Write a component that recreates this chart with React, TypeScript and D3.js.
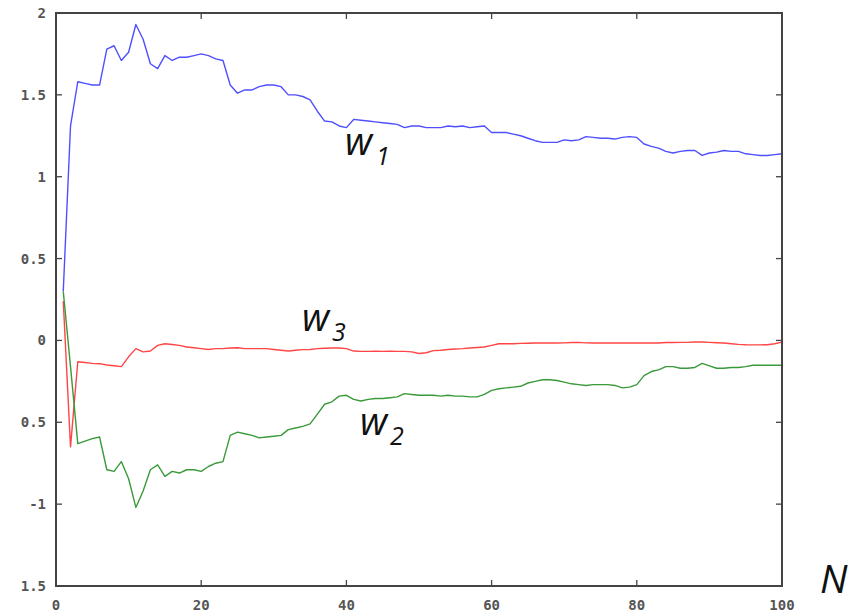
import { useEffect, useRef } from "react";
import * as d3 from "d3";

// weight estimates for N = 1..100
const w1 = [
  0.30, 1.31, 1.58, 1.57, 1.56, 1.56, 1.78, 1.80, 1.71, 1.76,
  1.93, 1.84, 1.69, 1.66, 1.74, 1.71, 1.73, 1.73, 1.74, 1.75,
  1.74, 1.72, 1.71, 1.56, 1.51, 1.53, 1.53, 1.55, 1.56, 1.56,
  1.55, 1.50, 1.50, 1.49, 1.47, 1.40, 1.34, 1.335, 1.31, 1.30,
  1.35, 1.345, 1.34, 1.335, 1.33, 1.325, 1.32, 1.30, 1.31, 1.31,
  1.30, 1.30, 1.30, 1.31, 1.305, 1.31, 1.30, 1.305, 1.31, 1.27,
  1.27, 1.27, 1.26, 1.25, 1.235, 1.22, 1.21, 1.21, 1.21, 1.225,
  1.22, 1.225, 1.245, 1.24, 1.235, 1.235, 1.23, 1.24, 1.245, 1.24,
  1.20, 1.185, 1.175, 1.155, 1.145, 1.155, 1.16, 1.16, 1.13, 1.145,
  1.15, 1.16, 1.155, 1.155, 1.14, 1.135, 1.13, 1.13, 1.135, 1.14,
];
const w2 = [
  0.30, -0.16, -0.63, -0.615, -0.60, -0.59, -0.79, -0.80, -0.74, -0.845,
  -1.02, -0.92, -0.79, -0.76, -0.83, -0.80, -0.81, -0.79, -0.79, -0.80,
  -0.77, -0.75, -0.74, -0.58, -0.56, -0.57, -0.58, -0.595, -0.59, -0.585,
  -0.58, -0.545, -0.535, -0.525, -0.51, -0.45, -0.39, -0.375, -0.34, -0.335,
  -0.36, -0.37, -0.36, -0.355, -0.355, -0.35, -0.345, -0.325, -0.33, -0.335,
  -0.335, -0.335, -0.34, -0.335, -0.34, -0.34, -0.345, -0.345, -0.33, -0.305,
  -0.295, -0.29, -0.285, -0.28, -0.26, -0.25, -0.24, -0.24, -0.245, -0.255,
  -0.265, -0.27, -0.275, -0.27, -0.27, -0.27, -0.275, -0.29, -0.285, -0.27,
  -0.215, -0.19, -0.18, -0.16, -0.16, -0.17, -0.17, -0.165, -0.14, -0.155,
  -0.17, -0.17, -0.165, -0.165, -0.16, -0.152, -0.152, -0.152, -0.152, -0.152,
];
const w3 = [
  0.24, -0.65, -0.13, -0.135, -0.14, -0.142, -0.15, -0.155, -0.16, -0.10,
  -0.05, -0.07, -0.065, -0.03, -0.02, -0.025, -0.03, -0.04, -0.045, -0.05,
  -0.055, -0.05, -0.05, -0.046, -0.045, -0.05, -0.05, -0.05, -0.05, -0.055,
  -0.06, -0.065, -0.06, -0.056, -0.055, -0.05, -0.048, -0.046, -0.046, -0.05,
  -0.065, -0.067, -0.067, -0.066, -0.067, -0.066, -0.067, -0.067, -0.07, -0.08,
  -0.075, -0.062, -0.06, -0.055, -0.052, -0.05, -0.046, -0.043, -0.04, -0.03,
  -0.02, -0.02, -0.02, -0.018, -0.017, -0.016, -0.016, -0.016, -0.016, -0.015,
  -0.013, -0.012, -0.015, -0.016, -0.016, -0.016, -0.016, -0.016, -0.015, -0.016,
  -0.016, -0.016, -0.016, -0.013, -0.013, -0.012, -0.012, -0.01, -0.01, -0.012,
  -0.014, -0.016, -0.02, -0.024, -0.026, -0.027, -0.027, -0.026, -0.02, -0.01,
];

const xTicks = [0, 20, 40, 60, 80, 100];
const yTicks = [2, 1.5, 1, 0.5, 0, -0.5, -1, -1.5];
// the source prints some negative labels without the minus sign
const yTickLabels = ["2", "1.5", "1", "0.5", "0", "0.5", "-1", "1.5"];

const series = [
  { name: "w1", values: w1, color: "#4f4fff" },
  { name: "w3", values: w3, color: "#ff4545" },
  { name: "w2", values: w2, color: "#3a9a3a" },
];

const W = 862, H = 616;
const margin = { top: 13, right: 80, bottom: 30, left: 56 };

function App() {
  const ref = useRef<SVGSVGElement>(null);

  useEffect(() => {
    const svg = d3.select(ref.current);
    svg.selectAll("*").remove();

    const x = d3.scaleLinear().domain([0, 100]).range([margin.left, W - margin.right]);
    const y = d3.scaleLinear().domain([-1.5, 2]).range([H - margin.bottom, margin.top]);

    const tickLen = 6;
    const axisColor = "#444";

    // inward ticks on all four sides
    const g = svg.append("g");
    xTicks.slice(1, -1).forEach(t => {
      g.append("line").attr("x1", x(t)).attr("x2", x(t))
        .attr("y1", y(-1.5)).attr("y2", y(-1.5) - tickLen)
        .attr("stroke", axisColor).attr("stroke-width", 1.3);
      g.append("line").attr("x1", x(t)).attr("x2", x(t))
        .attr("y1", y(2)).attr("y2", y(2) + tickLen)
        .attr("stroke", axisColor).attr("stroke-width", 1.3);
    });
    yTicks.slice(1, -1).forEach(t => {
      g.append("line").attr("x1", x(0)).attr("x2", x(0) + tickLen)
        .attr("y1", y(t)).attr("y2", y(t))
        .attr("stroke", axisColor).attr("stroke-width", 1.3);
      g.append("line").attr("x1", x(100)).attr("x2", x(100) - tickLen)
        .attr("y1", y(t)).attr("y2", y(t))
        .attr("stroke", axisColor).attr("stroke-width", 1.3);
    });

    // lines
    const line = d3.line<number>()
      .x((d, i) => x(i + 1))
      .y(d => y(d));
    series.forEach(s => {
      svg.append("path")
        .datum(s.values)
        .attr("fill", "none")
        .attr("stroke", s.color)
        .attr("stroke-width", 1.4)
        .attr("stroke-linejoin", "round")
        .attr("d", line);
    });

    // frame
    svg.append("rect")
      .attr("x", x(0)).attr("y", y(2))
      .attr("width", x(100) - x(0)).attr("height", y(-1.5) - y(2))
      .attr("fill", "none").attr("stroke", axisColor).attr("stroke-width", 2);

    // tick labels
    const labelStyle = (sel: any) => sel
      .attr("font-family", "'DejaVu Sans Mono', monospace")
      .attr("font-weight", "bold")
      .attr("font-size", 14)
      .attr("fill", "#555");
    yTicks.forEach((t, i) => {
      svg.append("text")
        .call(labelStyle)
        .attr("x", x(0) - 10).attr("y", y(t))
        .attr("dy", "0.36em")
        .attr("text-anchor", "end")
        .text(yTickLabels[i]);
    });
    xTicks.forEach(t => {
      svg.append("text")
        .call(labelStyle)
        .attr("x", x(t)).attr("y", y(-1.5) + 24)
        .attr("text-anchor", "middle")
        .text(String(t));
    });

    // annotations
    const ann = [
      { main: "w", sub: "1", x: 345, y: 155, sx: 376, sy: 165 },
      { main: "w", sub: "3", x: 302, y: 331, sx: 332, sy: 341 },
      { main: "w", sub: "2", x: 360, y: 435, sx: 390, sy: 445 },
    ];
    ann.forEach(a => {
      svg.append("text")
        .attr("x", a.x).attr("y", a.y)
        .attr("font-family", "'Open Sans', sans-serif")
        .attr("font-style", "italic")
        .attr("font-size", 38)
        .attr("fill", "#111")
        .text(a.main);
      svg.append("text")
        .attr("x", a.sx).attr("y", a.sy)
        .attr("font-family", "'Open Sans', sans-serif")
        .attr("font-style", "italic")
        .attr("font-size", 25)
        .attr("fill", "#111")
        .text(a.sub);
    });
    svg.append("text")
      .attr("x", 820).attr("y", 593)
      .attr("font-family", "'Open Sans', sans-serif")
      .attr("font-style", "italic")
      .attr("font-size", 39)
      .attr("fill", "#111")
      .text("N");
  });

  return (
    <svg ref={ref} width={W} height={H}
      style={{ position: "absolute", left: 0, top: 0, background: "#fff" }} />
  );
}

export default App;
